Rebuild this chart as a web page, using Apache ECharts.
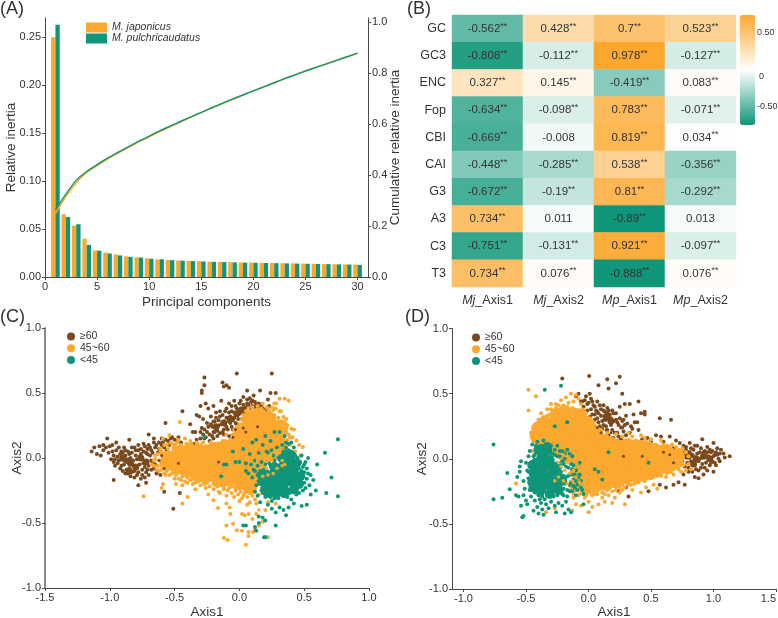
<!DOCTYPE html>
<html><head><meta charset="utf-8">
<style>html,body{margin:0;padding:0;background:#fff}#c{width:778px;height:618px}</style>
<script src="https://cdn.jsdelivr.net/npm/echarts@6/dist/echarts.min.js"></script>
</head><body><div id="c"></div>
<script>
const orange='#FCA82F', green='#0F9678', brown='#7A4A1E', ink='#333333', axisInk='#4a4a4a';
const pcs=[1,2,3,4,5,6,7,8,9,10,11,12,13,14,15,16,17,18,19,20,21,22,23,24,25,26,27,28,29,30];
const mjInertia=[.25,.0655,.0535,.04,.0275,.0255,.0235,.0215,.0205,.0195,.0183,.0178,.0172,.0168,.0165,.016,.0158,.0155,.0152,.015,.0148,.0146,.0144,.0142,.014,.0138,.0135,.0133,.013,.0128];
const mpInertia=[.263,.0625,.055,.0335,.0275,.0245,.0225,.021,.0203,.019,.0185,.0175,.017,.0166,.0162,.0158,.0156,.0153,.015,.0148,.0146,.0144,.0142,.014,.0138,.0136,.0134,.0132,.013,.0126];
const mjCumul=[.25,.316,.37,.41,.437,.463,.486,.508,.53,.55,.57,.589,.608,.627,.645,.663,.68,.697,.714,.73,.746,.762,.778,.793,.808,.822,.836,.85,.864,.878];
const mpCumul=[.263,.325,.38,.414,.441,.466,.489,.511,.533,.553,.573,.592,.61,.628,.646,.664,.681,.698,.714,.73,.746,.762,.778,.793,.808,.822,.836,.85,.864,.878];

const rowNames=['GC','GC3','ENC','Fop','CBI','CAI','G3','A3','C3','T3'];
const colNames=['Mj_Axis1','Mj_Axis2','Mp_Axis1','Mp_Axis2'];
const mjAxis1=[-.562,-.808,.327,-.634,-.669,-.448,-.672,.734,-.751,.734];
const mjAxis2=[.428,-.112,.145,-.098,-.008,-.285,-.19,.011,-.131,.076];
const mpAxis1=[.7,.978,-.419,.783,.819,.538,.81,-.89,.921,-.888];
const mpAxis2=[.523,-.127,.083,-.071,.034,-.356,-.292,.013,-.097,.076];
const notSignificant=[-.008,.011,.013];

const cBrown=[[-1.14,.05],[-1.12,.08],[-1.1,.03],[-1.08,.09],[-1.07,.02],[-1.05,.1],[-1.05,.06],[-1.03,.08],[-1.02,.15],[-1.01,.04],[-1,.09],[-.99,-.01],[-.98,.1],[-.97,.02],[-.97,-.03],[-.97,-.17],[-.96,-.06],[-.95,.06],[-.95,.12],[-.94,.01],[-.93,-.02],[-.92,.03],[-.92,-.08],[-.91,.05],[-.9,-.1],[-.9,.01],[-.89,.08],[-.89,-.05],[-.88,.02],[-.88,-.12],[-.87,-.03],[-.86,.05],[-.85,.14],[-.85,-.08],[-.84,-.14],[-.84,0],[-.83,.04],[-.82,-.06],[-.81,.08],[-.81,-.1],[-.8,.02],[-.79,-.13],[-.78,.06],[-.78,-.21],[-.77,.01],[-.76,-.16],[-.76,.03],[-.75,-.09],[-.74,.05],[-.74,-.04],[-.73,.09],[-.72,-.19],[-.72,-.11],[-.71,.03],[-.7,-.06],[-.7,.1],[-.7,.18],[-.69,.02],[-.68,-.09],[-.68,.06],[-.67,-.03],[-.66,.12],[-.66,.15],[-.65,.08],[-.64,-.12],[-.63,.04],[-.62,.12],[-.6,.15],[-.58,.08],[-.58,-.26],[-.57,.27],[-.55,.13],[-.52,.16],[-.51,-.39],[-.5,.14],[-.48,.13],[-.46,-.27],[-.44,.36],[-.38,.26],[-.36,.2],[-.35,.11],[-.34,.2],[-.33,.33],[-.33,.14],[-.31,.32],[-.3,.2],[-.3,.4],[-.29,.5],[-.29,.52],[-.29,.23],[-.28,.3],[-.27,.62],[-.27,.56],[-.27,.15],[-.26,.42],[-.25,.27],[-.24,.38],[-.23,.18],[-.22,.32],[-.21,.24],[-.2,.4],[-.2,.2],[-.19,.28],[-.18,.35],[-.17,.17],[-.16,.25],[-.15,.32],[-.14,.44],[-.13,.58],[-.13,.2],[-.12,.55],[-.12,.28],[-.11,.36],[-.1,.56],[-.1,.24],[-.09,.31],[-.08,.54],[-.08,.42],[-.08,.17],[-.07,.27],[-.06,.36],[-.05,.22],[-.04,.31],[-.03,.4],[-.02,.65],[-.02,.26],[-.02,.33],[0,.37],[.01,.44],[.02,.3],[.03,.47],[.04,.38],[.06,.52],[.06,.42],[.08,.46],[.1,.4],[.11,.48],[.12,.43],[.14,.38],[.16,.52],[.17,.4],[.2,.37],[.23,.4],[.24,.5],[.25,.65],[.28,.5],[.22,.45]];
const cBrownDense=[[-.98,.05],[-.96,-.01],[-.94,-.04],[-.93,.08],[-.91,-.06],[-.9,.04],[-.89,-.02],[-.88,.06],[-.87,-.09],[-.86,-.01],[-.86,-.12],[-.85,.03],[-.83,-.11],[-.83,.08],[-.82,-.02],[-.81,-.15],[-.8,.06],[-.8,-.08],[-.79,-.01],[-.78,-.11],[-.78,.1],[-.77,-.05],[-.76,.07],[-.75,-.13],[-.75,0],[-.74,.11],[-.73,-.07],[-.73,-.15],[-.72,.04],[-.71,-.09],[-.71,.07],[-.7,-.13],[-.69,.08],[-.68,-.02],[-.67,.04],[-.66,-.08],[-.65,-.05],[-.64,.1],[-.63,-.1],[-.62,.07],[-.61,-.13],[-.6,.1],[-.59,.12],[-.57,.14],[-.56,.06],[-.54,.1],[-.53,.15],[-.5,.1],[-.47,.16],[-.45,.12],[-.3,.15],[-.28,.18],[-.27,.22],[-.26,.16],[-.25,.2],[-.24,.24],[-.23,.13],[-.22,.26],[-.21,.17],[-.2,.28],[-.2,.15],[-.19,.2],[-.18,.24],[-.18,.31],[-.17,.21],[-.16,.29],[-.15,.19],[-.15,.36],[-.14,.26],[-.13,.33],[-.12,.22],[-.12,.18],[-.11,.27],[-.1,.31],[-.1,.38],[-.09,.22],[-.08,.28],[-.08,.35],[-.07,.32],[-.06,.24],[-.06,.4],[-.05,.29],[-.04,.35],[-.04,.44],[-.03,.27],[-.02,.38],[-.01,.3],[0,.34],[0,.42],[.01,.38],[.02,.35],[.03,.41],[.04,.34],[.05,.39],[.06,.45],[.07,.41],[.08,.38],[.09,.43],[.1,.44],[.12,.39],[.13,.41],[.15,.42],[.16,.39],[.18,.38]];
const cBrownCore=[[-.9,0],[-.84,-.04],[-.8,-.07],[-.76,0],[-.72,-.03],[-.85,-.1],[-.18,.24],[-.12,.27],[-.07,.3],[-.02,.34],[.02,.37]];
const cOrange=[[-.74,-.295],[-.68,-.05],[-.66,-.02],[-.65,.02],[-.64,-.09],[-.62,-.1],[-.6,-.23],[-.6,.05],[-.59,.15],[-.59,-.2],[-.57,-.13],[-.56,.1],[-.54,.175],[-.54,-.13],[-.52,.11],[-.5,-.16],[-.49,-.2],[-.47,.14],[-.46,.277],[-.45,-.17],[-.44,-.35],[-.44,-.21],[-.42,.15],[-.4,-.3],[-.4,-.19],[-.38,.13],[-.36,-.2],[-.34,-.24],[-.33,.12],[-.3,-.21],[-.28,.12],[-.26,-.23],[-.24,-.28],[-.22,.12],[-.2,-.325],[-.2,-.24],[-.18,-.21],[-.165,-.385],[-.15,-.27],[-.13,.13],[-.12,-.615],[-.12,-.24],[-.1,-.52],[-.1,-.35],[-.1,-.29],[-.09,-.63],[-.08,-.23],[-.075,-.38],[-.07,-.43],[-.05,-.505],[-.04,-.3],[-.03,-.25],[-.02,-.556],[0,-.33],[.02,-.43],[.02,-.56],[.03,-.29],[.04,-.44],[.05,-.667],[.05,.3],[.06,-.36],[.07,-.6],[.07,-.57],[.07,-.43],[.08,-.34],[.1,-.47],[.105,-.57],[.12,-.55],[.13,-.35],[.13,-.43],[.14,.4],[.15,-.52],[.18,-.49],[.18,.42],[.2,-.4],[.22,-.61],[.22,.38],[.25,.39],[.27,.42],[.285,.42],[.31,.456],[.32,.36],[.34,.315],[.35,.456],[.36,.3],[.37,.25],[.38,.44],[.38,.18],[.39,.16],[.4,.225],[.42,.22],[.44,.135],[.46,.1],[.49,.085],[.43,.05],[.47,.02],[.28,-.35],[.22,-.34],[.35,.05]];
const cOrangeFringe=[[-.66,-.06],[-.65,-.01],[-.63,.03],[-.63,-.06],[-.62,-.02],[-.61,.07],[-.6,-.09],[-.6,.03],[-.58,.1],[-.58,-.12],[-.57,.03],[-.56,-.1],[-.55,.07],[-.54,-.08],[-.53,.12],[-.52,-.12],[-.51,.08],[-.5,.1],[-.49,-.13],[-.48,.12],[-.47,-.16],[-.45,.1],[-.44,-.14],[-.43,.08],[-.42,-.18],[-.41,.11],[-.4,-.15],[-.39,.1],[-.38,-.17],[-.37,.11],[-.36,-.16],[-.35,.09],[-.34,-.19],[-.32,.1],[-.32,-.18],[-.3,-.17],[-.3,.1],[-.28,-.18],[-.27,-.2],[-.26,.09],[-.25,-.19],[-.23,-.22],[-.21,.1],[-.2,-.2],[-.19,.11],[-.17,-.22],[-.16,-.26],[-.14,.11],[-.14,-.21],[-.12,-.22],[-.11,.13],[-.1,.18],[-.09,-.25],[-.07,.14],[-.06,-.22],[-.06,-.27],[-.05,.18],[-.04,.22],[-.03,-.24],[-.02,.24],[-.01,-.28],[0,.26],[.01,-.26],[.02,.3],[.02,-.31],[.03,.33],[.04,-.27],[.05,.36],[.06,-.3],[.07,.38],[.08,-.27],[.1,-.29],[.1,.39],[.11,.36],[.12,-.32],[.12,-.26],[.13,.37],[.15,-.28],[.17,.38],[.19,.36],[.2,.32],[.21,.39],[.23,.36],[.25,.33],[.26,.37],[.27,.33],[.28,.38],[.3,.31],[.31,.36],[.33,.27],[.34,.2],[.35,.25],[.36,.2],[.37,.14],[.39,.1],[.41,.16],[.1,-.2],[.12,-.15],[.14,-.2]];
const cOrangeCore=[[-.56,-.04],[-.55,0],[-.48,-.07],[-.49,-.01],[-.47,.04],[-.41,-.09],[-.4,-.04],[-.42,.02],[-.39,.05],[-.33,-.12],[-.32,-.06],[-.34,0],[-.31,.05],[-.25,-.13],[-.24,-.08],[-.25,-.02],[-.23,.05],[-.17,-.15],[-.16,-.09],[-.17,-.03],[-.15,.03],[-.16,.07],[-.09,-.16],[-.08,-.1],[-.09,-.04],[-.07,.02],[-.08,.08],[0,-.19],[.01,-.12],[-.01,-.06],[.01,0],[0,.06],[-.01,.12],[.01,.19],[.08,-.22],[.07,-.15],[.09,-.08],[.08,-.02],[.07,.05],[.09,.12],[.08,.19],[.07,.26],[.09,.31],[.16,-.15],[.15,-.08],[.17,0],[.16,.07],[.15,.14],[.17,.21],[.16,.28],[.15,.33],[.24,.03],[.23,.1],[.25,.17],[.24,.24],[.23,.3],[.31,.1],[.3,.17],[.32,.24]];
const cGreenCore=[[.3,-.19],[.25,-.17],[.33,-.15],[.38,-.1],[.4,-.06],[.36,-.02],[.28,-.22],[.22,-.2],[.42,-.14],[.34,-.22],[.4,-.18],[.37,.03],[.3,-.12],[.2,-.23],[.27,-.13],[.32,-.24],[.36,-.18],[.24,-.23],[.29,-.16],[.36,-.11],[.42,-.09],[.44,-.18],[.38,-.02],[.4,-.12],[.34,-.06],[.17,-.17],[.2,-.12],[.22,-.27],[.28,-.27],[.35,-.27],[.42,-.24],[.47,-.14],[.44,-.04],[.33,0],[.4,.02],[.27,-.07],[.46,-.2]];
const cGreen=[[-.27,.16],[-.14,-.14],[-.12,-.05],[-.1,-.05],[-.05,.05],[-.03,-.03],[0,-.03],[.03,.07],[.05,-.04],[.05,-.1],[.07,-.12],[.08,.03],[.09,-.05],[.1,-.15],[.1,.12],[.11,-.09],[.12,-.02],[.12,-.26],[.13,.14],[.14,-.06],[.14,-.29],[.15,-.12],[.15,-.45],[.15,.04],[.16,-.2],[.16,-.34],[.17,-.03],[.18,-.46],[.18,.1],[.18,-.27],[.19,-.61],[.19,-.09],[.2,-.48],[.2,-.61],[.2,.17],[.2,-.3],[.21,-.14],[.22,.04],[.22,-.36],[.23,-.26],[.24,-.06],[.24,.13],[.25,-.33],[.25,-.39],[.26,.02],[.26,-.28],[.27,-.12],[.27,.2],[.28,-.42],[.28,-.52],[.28,-.05],[.29,.08],[.3,-.31],[.3,0],[.31,-.38],[.31,.2],[.32,-.28],[.32,-.05],[.33,.1],[.34,-.4],[.34,-.29],[.35,.17],[.35,-.09],[.36,-.44],[.36,.08],[.37,-.3],[.38,-.38],[.38,.11],[.38,0],[.39,-.27],[.4,-.32],[.4,.05],[.41,-.24],[.41,-.02],[.42,-.35],[.42,.08],[.43,-.08],[.44,-.28],[.44,-.2],[.45,0],[.45,-.12],[.46,-.27],[.46,-.16],[.47,-.03],[.47,-.22],[.48,-.37],[.48,-.1],[.49,-.25],[.49,-.14],[.5,-.05],[.5,-.19],[.51,-.23],[.52,-.36],[.52,-.16],[.53,0],[.53,-.12],[.54,-.21],[.55,-.28],[.57,-.17],[.59,-.25],[.6,-.05],[.66,.04],[.67,-.27],[.71,-.15],[.76,.145],[.76,-.295],[.05,-.52],[.03,-.52],[.12,-.53],[.13,-.56],[.15,-.5]];
const cGreenDense=[[.12,-.1],[.13,-.21],[.14,-.13],[.15,-.17],[.16,-.1],[.17,-.25],[.17,-.15],[.18,-.2],[.19,-.12],[.19,-.27],[.2,-.17],[.2,-.05],[.21,-.24],[.21,.05],[.22,-.11],[.22,-.28],[.23,-.16],[.23,-.04],[.24,-.21],[.24,-.3],[.25,-.1],[.25,.06],[.26,-.24],[.26,-.15],[.27,-.31],[.27,-.02],[.28,-.17],[.28,-.26],[.29,-.1],[.29,-.3],[.3,-.24],[.3,-.06],[.31,-.15],[.31,-.28],[.32,-.2],[.32,.03],[.33,-.25],[.33,-.09],[.34,-.13],[.34,.05],[.35,-.27],[.35,-.03],[.36,-.17],[.36,.12],[.37,-.24],[.37,-.06],[.38,-.15],[.38,.06],[.39,-.2],[.39,-.03],[.4,-.13],[.4,.12],[.41,-.2],[.41,-.08],[.42,-.03],[.42,-.18],[.43,.02],[.43,-.13],[.44,-.06],[.45,-.17],[.46,-.08],[.47,-.14],[.48,-.2],[.48,.02],[.49,-.07],[.5,-.11],[.51,-.03],[.52,-.08],[.55,-.13]];
const cOrangeOver=[[.09,0],[.12,.05],[.14,-.02],[.16,.06],[.18,-.06],[.19,.02],[.21,-.08],[.23,.09],[.25,-.02],[.27,.05],[.29,-.08],[.31,.04],[.33,-.02],[.35,-.05],[.18,-.14],[.22,-.13],[.13,-.16],[.26,-.12],[.33,-.06],[.15,-.4],[.24,.02],[.3,.06]];
const cBrownOver=[[-.62,-.02],[-.6,.02],[-.58,-.08],[-.16,-.03],[-.47,-.04],[.05,.2],[.14,.24],[.03,.23],[-.05,.16],[-.03,.22]];

const dBrown=[[-.21,.617],[.005,.635],[.15,.61],[.25,.63],[.08,.565],[.16,.54],[.22,.58],[.27,.5],[.4,.44],[.33,.42],[.45,.36],[.57,.31],[.66,.3],[-.1,.48],[-.08,.5],[-.05,.44],[-.02,.48],[-.01,.42],[.01,.5],[.02,.38],[.03,.44],[.05,.4],[.05,.34],[.07,.36],[.08,.28],[.09,.41],[.1,.33],[.11,.23],[.12,.37],[.13,.3],[.14,.25],[.15,.35],[.16,.37],[.16,.18],[.17,.28],[.18,.31],[.19,.22],[.2,.16],[.2,.35],[.22,.3],[.23,.2],[.24,.26],[.25,.4],[.26,.15],[.27,.24],[.28,.3],[.29,.42],[.3,.18],[.31,.27],[.32,.14],[.34,.25],[.36,.34],[.39,.28],[.42,.35],[.45,.34],[.5,.13],[.54,.18],[.58,.17],[.6,.13],[.65,.17],[.68,.08],[.7,.14],[.72,.02],[.73,.12],[.74,-.04],[.75,.05],[.76,.1],[.76,-.12],[.77,-.2],[.78,.01],[.78,.09],[.79,-.03],[.8,.05],[.8,-.07],[.81,.12],[.82,-.02],[.83,.03],[.83,-.1],[.84,.07],[.85,-.05],[.85,-.14],[.86,.01],[.87,.1],[.88,-.02],[.88,-.15],[.89,.05],[.9,-.07],[.91,.15],[.91,.01],[.92,-.12],[.93,.06],[.94,-.03],[.95,.09],[.95,-.09],[.96,.02],[.97,-.05],[.98,.05],[.99,-.02],[1,.12],[1,-.1],[1.01,.03],[1.02,-.05],[1.03,.08],[1.04,0],[1.05,-.02],[1.06,.07],[1.08,.04],[1.09,.01],[1.13,.02],[.72,-.18],[.68,-.2],[.62,-.22],[.57,-.2],[.48,-.25],[.32,-.29],[.3,-.22],[.24,-.25]];
const dBrownDense=[[-.06,.44],[-.04,.4],[-.03,.45],[-.01,.37],[0,.43],[.01,.32],[.02,.46],[.03,.34],[.04,.41],[.05,.3],[.06,.37],[.07,.44],[.07,.31],[.08,.35],[.09,.25],[.1,.38],[.11,.29],[.12,.41],[.12,.26],[.13,.36],[.14,.3],[.15,.22],[.15,.39],[.16,.32],[.17,.34],[.18,.26],[.19,.37],[.2,.29],[.21,.2],[.22,.35],[.23,.28],[.24,.17],[.25,.31],[.26,.24],[.27,.29],[.28,.21],[.29,.26],[.3,.33],[.33,.2],[.35,.23],[.37,.28],[.4,.22],[.43,.15],[.47,.16],[.7,.04],[.72,-.06],[.73,.05],[.75,-.02],[.76,.03],[.77,-.06],[.78,.07],[.79,.02],[.8,-.1],[.81,.05],[.82,.08],[.83,-.03],[.84,.02],[.85,.1],[.86,-.08],[.87,.04],[.88,-.09],[.89,0],[.9,.08],[.91,-.04],[.92,.05],[.93,-.07],[.94,.02],[.95,.05],[.96,-.01],[.97,.07],[.98,-.03],[.99,.06],[1,.02],[1.01,-.03],[1.02,.05],[1.03,.03],[1.05,.04]];
const dBrownCore=[[.8,.02],[.86,0],[.92,.02],[.97,0],[.84,-.04],[.14,.32],[.18,.29]];
const dOrange=[[-.58,-.19],[-.48,.53],[-.48,.37],[-.46,.2],[-.45,.06],[-.42,.48],[-.42,.25],[-.4,.3],[-.39,.08],[-.38,.35],[-.36,.32],[-.34,-.41],[-.33,.38],[-.3,.42],[-.3,.38],[-.28,.25],[-.27,-.38],[-.26,.42],[-.24,.36],[-.22,.45],[-.2,.41],[-.18,.47],[-.16,.43],[-.14,.5],[-.12,.44],[-.1,.49],[-.08,.46],[-.06,.42],[-.04,.37],[-.02,.35],[0,-.41],[.02,.3],[.05,.26],[-.13,-.4],[-.12,-.3],[-.1,-.35],[-.08,-.28],[-.06,-.36],[-.03,-.3],[0,-.33],[.03,-.37],[.05,-.27],[.08,-.35],[.11,-.3],[.13,-.33],[.16,-.28],[.19,-.34],[.21,-.3],[.25,-.26],[.29,-.35],[.27,-.24],[.32,-.2],[.35,-.24],[.38,-.18],[.42,-.26],[.46,-.22],[.5,-.15],[.52,-.2],[.55,-.23],[.58,-.13],[.62,-.14],[.65,-.1],[.68,-.12],[.7,-.06],[.72,-.08],[.78,-.09],[.75,.08],[.67,.11],[.63,.1],[.58,.14],[.55,.1],[.5,.15],[.47,.11],[.45,.16],[.43,.13],[.42,.18],[.38,.14],[.35,.17],[.32,.2],[.27,.17],[.22,.19],[.18,.16],[.15,.2],[.1,.22],[.48,.03],[.8,.02],[.82,-.08]];
const dOrangeFringe=[[.8,-.04],[.78,.05],[.76,-.05],[.75,.03],[.74,-.1],[.72,.07],[.71,-.06],[.7,.09],[.68,-.08],[.67,.07],[.66,-.1],[.65,.09],[.63,-.11],[.62,.09],[.6,-.1],[.6,.11],[.58,-.12],[.57,.09],[.55,-.13],[.54,.11],[.52,-.14],[.51,.11],[.5,-.13],[.49,.12],[.47,-.15],[.46,.13],[.45,-.17],[.44,.12],[.43,-.16],[.41,.12],[.4,-.18],[.38,.13],[.37,-.19],[.36,.13],[.34,-.2],[.33,.14],[.31,-.19],[.3,.14],[.29,-.22],[.27,-.2],[.26,.13],[.25,-.22],[.23,.14],[.22,-.24],[.2,.15],[.19,-.25],[.18,.13],[.17,-.22],[.15,-.24],[.14,.18],[.13,-.27],[.11,-.26],[.1,.18],[.09,-.23],[.08,.22],[.07,-.27],[.05,.24],[.04,-.25],[.03,-.28],[.03,.25],[.01,-.26],[0,.3],[-.02,-.28],[-.03,.33],[-.05,-.24],[-.05,.38],[-.07,-.27],[-.08,.37],[-.11,.38],[-.12,-.27],[-.13,.39],[-.15,.37],[-.17,.4],[-.19,.39],[-.21,.4],[-.23,.38],[-.24,.41],[-.26,.39],[-.27,.36],[-.29,.37],[-.31,.34],[-.33,.33],[-.34,.32],[-.36,.28],[-.38,.3],[-.39,.27],[-.41,.27],[-.42,.2],[-.43,.17],[-.44,.22],[-.4,.11],[-.37,.09],[-.35,.11],[-.31,.1],[-.29,.06],[-.27,.03],[-.23,.01]];
const dOrangeCore=[[.7,-.02],[.71,.02],[.62,-.05],[.63,.01],[.61,.05],[.54,-.08],[.55,-.02],[.53,.04],[.46,-.1],[.47,-.04],[.45,.02],[.46,.07],[.38,-.13],[.39,-.07],[.37,-.01],[.38,.05],[.39,.09],[.3,-.14],[.31,-.08],[.29,-.02],[.3,.04],[.31,.1],[.22,-.17],[.23,-.1],[.21,-.04],[.22,.03],[.23,.09],[.14,-.19],[.15,-.12],[.13,-.05],[.14,.02],[.15,.08],[.13,.13],[.06,-.2],[.07,-.14],[.05,-.07],[.06,0],[.07,.07],[.05,.13],[.06,.19],[-.02,-.22],[-.01,-.15],[-.03,-.08],[-.02,-.01],[-.01,.06],[-.03,.13],[-.02,.2],[-.01,.27],[-.1,-.2],[-.09,-.1],[-.11,0],[-.1,.07],[-.09,.14],[-.11,.21],[-.1,.28],[-.09,.33],[-.18,.02],[-.17,.09],[-.19,.16],[-.18,.23],[-.17,.3],[-.19,.35],[-.26,.07],[-.25,.14],[-.27,.21],[-.26,.28],[-.25,.33],[-.34,.14],[-.33,.2],[-.35,.27],[-.41,.17],[-.4,.23]];
const dGreenCore=[[-.33,-.13],[-.36,-.08],[-.3,-.05],[-.38,-.17],[-.32,-.2],[-.27,-.13],[-.25,-.2],[-.4,-.12],[-.34,-.03],[-.28,-.07],[-.37,.03],[-.33,.06],[-.35,-.2],[-.4,-.07],[-.42,-.15],[-.29,-.17],[-.36,-.14],[-.3,-.22],[-.24,-.14],[-.31,-.01],[-.38,0],[-.44,-.11],[-.45,-.18],[-.42,-.03],[-.45,-.05],[-.38,-.24],[-.31,-.27],[-.24,-.24],[-.21,-.17],[-.25,-.06],[-.4,.07],[-.33,.09],[-.44,-.22]];
const dGreen=[[-.76,.11],[-.76,-.31],[-.69,-.3],[-.65,-.11],[-.63,-.235],[-.58,-.28],[-.57,-.14],[-.56,-.29],[-.55,-.06],[-.55,-.1],[-.54,-.02],[-.54,-.36],[-.53,-.45],[-.52,-.44],[-.52,-.28],[-.52,-.17],[-.51,-.23],[-.5,-.03],[-.5,-.32],[-.49,-.09],[-.49,-.35],[-.48,-.15],[-.48,.02],[-.47,-.24],[-.47,.06],[-.46,-.29],[-.46,-.12],[-.45,.11],[-.45,-.05],[-.44,-.4],[-.44,-.2],[-.43,.03],[-.43,-.32],[-.42,.1],[-.42,-.26],[-.41,-.37],[-.41,.13],[-.4,-.42],[-.39,-.31],[-.39,-.24],[-.38,-.34],[-.38,.1],[-.37,-.39],[-.37,-.27],[-.36,-.43],[-.36,.14],[-.35,.53],[-.35,-.31],[-.34,-.35],[-.33,.1],[-.32,-.28],[-.32,-.38],[-.31,.07],[-.3,-.33],[-.3,-.25],[-.29,.04],[-.28,-.29],[-.27,-.36],[-.27,.03],[-.26,-.41],[-.25,-.28],[-.25,.1],[-.24,-.03],[-.24,-.34],[-.23,.02],[-.22,.56],[-.22,-.26],[-.22,-.1],[-.21,-.36],[-.21,.06],[-.2,-.04],[-.2,-.28],[-.19,0],[-.19,-.42],[-.18,-.14],[-.18,-.33],[-.17,.07],[-.17,-.24],[-.16,-.07],[-.16,-.39],[-.15,-.2],[-.15,.04],[-.14,-.12],[-.14,-.41],[-.13,-.25],[-.13,.02],[-.12,-.05],[-.12,-.16],[-.11,-.22],[-.1,-.09],[-.09,-.2],[-.08,-.14],[-.07,-.03],[-.06,-.17],[-.05,-.24],[-.04,-.27],[-.27,.25],[-.17,.28],[.05,-.08],[.08,-.1],[.11,-.16],[.16,.05],[.48,-.03],[-.04,-.35],[-.1,-.28]];
const dGreenDense=[[-.48,-.1],[-.47,-.18],[-.46,-.03],[-.45,-.14],[-.45,-.22],[-.44,-.07],[-.44,.02],[-.43,-.16],[-.43,-.26],[-.42,-.04],[-.42,-.11],[-.41,-.2],[-.41,.05],[-.4,-.28],[-.4,-.02],[-.39,-.14],[-.39,.08],[-.38,-.22],[-.38,-.06],[-.37,-.29],[-.37,-.12],[-.36,.07],[-.36,-.18],[-.35,-.25],[-.35,0],[-.34,-.13],[-.34,.1],[-.33,-.28],[-.33,-.06],[-.32,.03],[-.32,-.16],[-.31,-.24],[-.31,-.1],[-.3,.1],[-.3,-.19],[-.29,-.27],[-.29,-.03],[-.28,-.14],[-.27,-.23],[-.27,.07],[-.26,-.05],[-.26,-.18],[-.25,-.26],[-.25,.02],[-.24,-.1],[-.23,-.21],[-.23,.06],[-.22,-.16],[-.21,-.27],[-.21,-.02],[-.2,-.13],[-.2,-.23],[-.19,.04],[-.18,-.06],[-.18,-.19],[-.17,-.29],[-.16,-.13],[-.15,-.25],[-.14,-.04],[-.14,-.18],[-.13,-.08],[-.12,-.21],[-.11,-.12],[-.1,-.17],[-.09,-.24],[-.08,-.06],[-.07,-.12],[-.06,-.22]];
const dOrangeOver=[[-.24,-.14],[-.22,-.06],[-.2,-.17],[-.19,-.09],[-.17,-.19],[-.16,-.03],[-.15,-.11],[-.13,-.17],[-.12,-.09],[-.11,-.02],[-.1,-.14],[-.08,-.06],[-.07,-.18],[-.05,-.1],[-.04,-.02],[-.27,-.17],[-.24,-.03],[-.2,.03],[-.14,.06],[-.09,.02]];
const dBrownOver=[[.28,.02],[.43,.02],[.1,.2],[.14,.22],[.07,.24],[.18,.2],[.6,.05],[.65,.03],[.68,-.03]];

const heatValues=[];
[mjAxis1,mjAxis2,mpAxis1,mpAxis2].forEach((col,c)=>col.forEach((v,r)=>heatValues.push([c,r,v])));

const sans='"Liberation Sans",Arial,sans-serif';
const tickLbl=d=>({color:ink,fontSize:11,fontFamily:sans,margin:4,formatter:v=>v.toFixed(d)});
const line=(w,col)=>({show:true,onZero:false,lineStyle:{color:col||axisInk,width:w||1}});
const tick=(col)=>({show:true,length:3,inside:false,lineStyle:{color:col||axisInk}});
const nameS={color:ink,fontSize:13.5,fontFamily:sans};
const ticksA=[0,5,10,15,20,25,30];
const ticksDx=[-1,-.5,0,.5,1,1.5];

const scat=(name,data,color,size,g)=>({type:'scatter',name,data,xAxisIndex:g,yAxisIndex:g==1?2:g==2?3:g==3?4:0,itemStyle:{color,opacity:1},symbolSize:size,silent:true,animation:false});
const panel=(g,s)=>[
 scat('≥60',s.brown.concat(s.brownDense),brown,4,g),scat('≥60',s.brownCore,brown,7,g),
 scat('45~60',s.orange.concat(s.orangeFringe),orange,4,g),scat('45~60',s.orangeCore,orange,15,g),
 scat('<45',s.greenCore,green,10,g),scat('<45',s.green.concat(s.greenDense),green,4,g),
 scat('45~60',s.orangeOver,orange,3.6,g),scat('≥60',s.brownOver,brown,3,g)];
const legendFor=(left,top)=>({show:true,orient:'vertical',left,top,itemWidth:8,itemHeight:8,itemGap:.8,padding:0,selectedMode:false,
  textStyle:{color:ink,fontSize:10.5,fontFamily:sans},
  data:[{name:'≥60',icon:'circle'},{name:'45~60',icon:'circle'},{name:'<45',icon:'circle'}]});

const panelTitle=(text,left,top)=>({text,left,top,padding:0,textStyle:{fontSize:18,fontWeight:'normal',color:ink,fontFamily:sans}});

const option={
 animation:false,backgroundColor:'#fff',
 title:[panelTitle('(A)',0,0),panelTitle('(B)',407,0),panelTitle('(C)',0,308),panelTitle('(D)',405,308)],
 legend:[
  {orient:'vertical',left:86,top:22,itemWidth:21,itemHeight:10,itemGap:0,padding:0,selectedMode:false,icon:'rect',
   textStyle:{color:ink,fontSize:10.5,fontStyle:'italic',fontFamily:sans},data:['M. japonicus','M. pulchricaudatus']},
  legendFor(67,331),
  legendFor(472,332)
 ],
 grid:[
  {left:45,top:18,width:323,height:259,outerBoundsMode:'none'},
  {left:45,top:328,width:324,height:260,outerBoundsMode:'none'},
  {left:452,top:328.5,width:324,height:260.5,outerBoundsMode:'none'},
  {left:452,top:15,width:284,height:272,outerBoundsMode:'none'}
 ],
 xAxis:[
  {type:'value',gridIndex:0,min:0,max:31,name:'Principal components',nameLocation:'middle',nameGap:18,nameMoveOverlap:false,nameTextStyle:nameS,
   axisLine:line(),axisTick:Object.assign(tick(),{customValues:ticksA}),splitLine:{show:false},
   axisLabel:{color:ink,fontSize:11,fontFamily:sans,margin:4,customValues:ticksA}},
  {type:'value',gridIndex:1,min:-1.5,max:1,interval:.5,name:'Axis1',nameLocation:'middle',nameGap:17,nameMoveOverlap:false,nameTextStyle:nameS,
   axisLine:line(),axisTick:tick(),splitLine:{show:false},axisLabel:tickLbl(1)},
  {type:'value',gridIndex:2,min:-1.092,max:1.5,name:'Axis1',nameLocation:'middle',nameGap:16,nameMoveOverlap:false,nameTextStyle:nameS,
   axisLine:line(),axisTick:Object.assign(tick(),{customValues:ticksDx}),splitLine:{show:false},
   axisLabel:Object.assign(tickLbl(1),{customValues:ticksDx,alignMaxLabel:'right'})},
  {type:'category',gridIndex:3,data:colNames,axisLine:{show:false},axisTick:{show:false},
   axisLabel:{interval:0,margin:7,color:ink,fontSize:12.5,fontFamily:sans,
    formatter:v=>{const p=v.split('_');return '{i|'+p[0]+'}_'+p[1];},
    rich:{i:{fontStyle:'italic',fontSize:12.5,color:ink,fontFamily:sans}}}}
 ],
 yAxis:[
  {type:'value',gridIndex:0,min:0,max:.27,name:'Relative inertia',nameLocation:'middle',nameGap:27,nameMoveOverlap:false,nameTextStyle:nameS,
   axisLine:line(),axisTick:Object.assign(tick(),{customValues:[0,.05,.1,.15,.2,.25]}),splitLine:{show:false},
   axisLabel:Object.assign(tickLbl(2),{customValues:[0,.05,.1,.15,.2,.25]})},
  {type:'value',gridIndex:0,position:'right',min:0,max:1.016,name:'Cumulative relative inertia',nameLocation:'middle',nameGap:20,nameMoveOverlap:false,nameTextStyle:nameS,
   axisLine:line(),axisTick:Object.assign(tick(),{customValues:[0,.2,.4,.6,.8,1]}),splitLine:{show:false},
   axisLabel:Object.assign(tickLbl(1),{customValues:[0,.2,.4,.6,.8,1]})},
  {type:'value',gridIndex:1,min:-1,max:1,interval:.5,name:'Axis2',nameLocation:'middle',nameGap:21,nameMoveOverlap:false,nameTextStyle:nameS,
   axisLine:line(2,'#8a8a8a'),axisTick:tick(),splitLine:{show:false},axisLabel:tickLbl(1)},
  {type:'value',gridIndex:2,min:-1,max:1,interval:.5,name:'Axis2',nameLocation:'middle',nameGap:23,nameMoveOverlap:false,nameTextStyle:nameS,
   axisLine:line(),axisTick:tick(),splitLine:{show:false},axisLabel:tickLbl(1)},
  {type:'category',gridIndex:3,inverse:true,data:rowNames,axisLine:{show:false},axisTick:{show:false},
   axisLabel:{margin:6,color:ink,fontSize:12.5,fontFamily:sans}}
 ],
 visualMap:{type:'continuous',seriesIndex:4,min:-.89,max:.98,left:740,top:15,itemWidth:15,itemHeight:110,padding:0,
   calculable:false,hoverLink:false,realtime:false,text:null,showLabel:false,
   inRange:{color:[green,'#ffffff',orange]},textStyle:{color:'rgba(0,0,0,0)',fontSize:1}},
 graphic:[
  {type:'text',left:757,top:28,style:{text:'0.50',fontSize:9,fill:ink,fontFamily:sans}},
  {type:'text',left:759,top:72,style:{text:'0',fontSize:9,fill:ink,fontFamily:sans}},
  {type:'text',left:757,top:102,style:{text:'-0.50',fontSize:9,fill:ink,fontFamily:sans}}
 ],
 series:[
  {type:'bar',name:'M. japonicus',data:mjInertia.map((v,i)=>[pcs[i],v]),xAxisIndex:0,yAxisIndex:0,barWidth:4.3,barGap:0,itemStyle:{color:orange}},
  {type:'bar',name:'M. pulchricaudatus',data:mpInertia.map((v,i)=>[pcs[i],v]),xAxisIndex:0,yAxisIndex:0,barWidth:4.3,barGap:0,itemStyle:{color:green}},
  {type:'line',name:'mj cumulative',data:mjCumul.map((v,i)=>[pcs[i],v]),xAxisIndex:0,yAxisIndex:1,showSymbol:false,smooth:.2,lineStyle:{color:orange,width:1.6}},
  {type:'line',name:'mp cumulative',data:mpCumul.map((v,i)=>[pcs[i],v]),xAxisIndex:0,yAxisIndex:1,showSymbol:false,smooth:.2,lineStyle:{color:green,width:1.4}},
  {type:'heatmap',name:'corr',data:heatValues,xAxisIndex:3,yAxisIndex:4,silent:true,
   label:{show:true,
    formatter:p=>{const v=p.value[2];return '{v|'+v+'}'+(notSignificant.includes(v)?'':'{s|**}');},
    rich:{v:{fontSize:11.5,color:ink,fontFamily:sans,lineHeight:14},s:{fontSize:9,color:ink,fontFamily:sans,verticalAlign:'top',lineHeight:14}}},
   itemStyle:{borderWidth:0}},
  ...panel(1,{brown:cBrown,brownDense:cBrownDense,brownCore:cBrownCore,orange:cOrange,orangeFringe:cOrangeFringe,orangeCore:cOrangeCore,greenCore:cGreenCore,green:cGreen,greenDense:cGreenDense,orangeOver:cOrangeOver,brownOver:cBrownOver}),
  ...panel(2,{brown:dBrown,brownDense:dBrownDense,brownCore:dBrownCore,orange:dOrange,orangeFringe:dOrangeFringe,orangeCore:dOrangeCore,greenCore:dGreenCore,green:dGreen,greenDense:dGreenDense,orangeOver:dOrangeOver,brownOver:dBrownOver})
 ]
};
const chart=echarts.init(document.getElementById('c'),null,{renderer:'canvas'});
chart.setOption(option);
</script></body></html>
